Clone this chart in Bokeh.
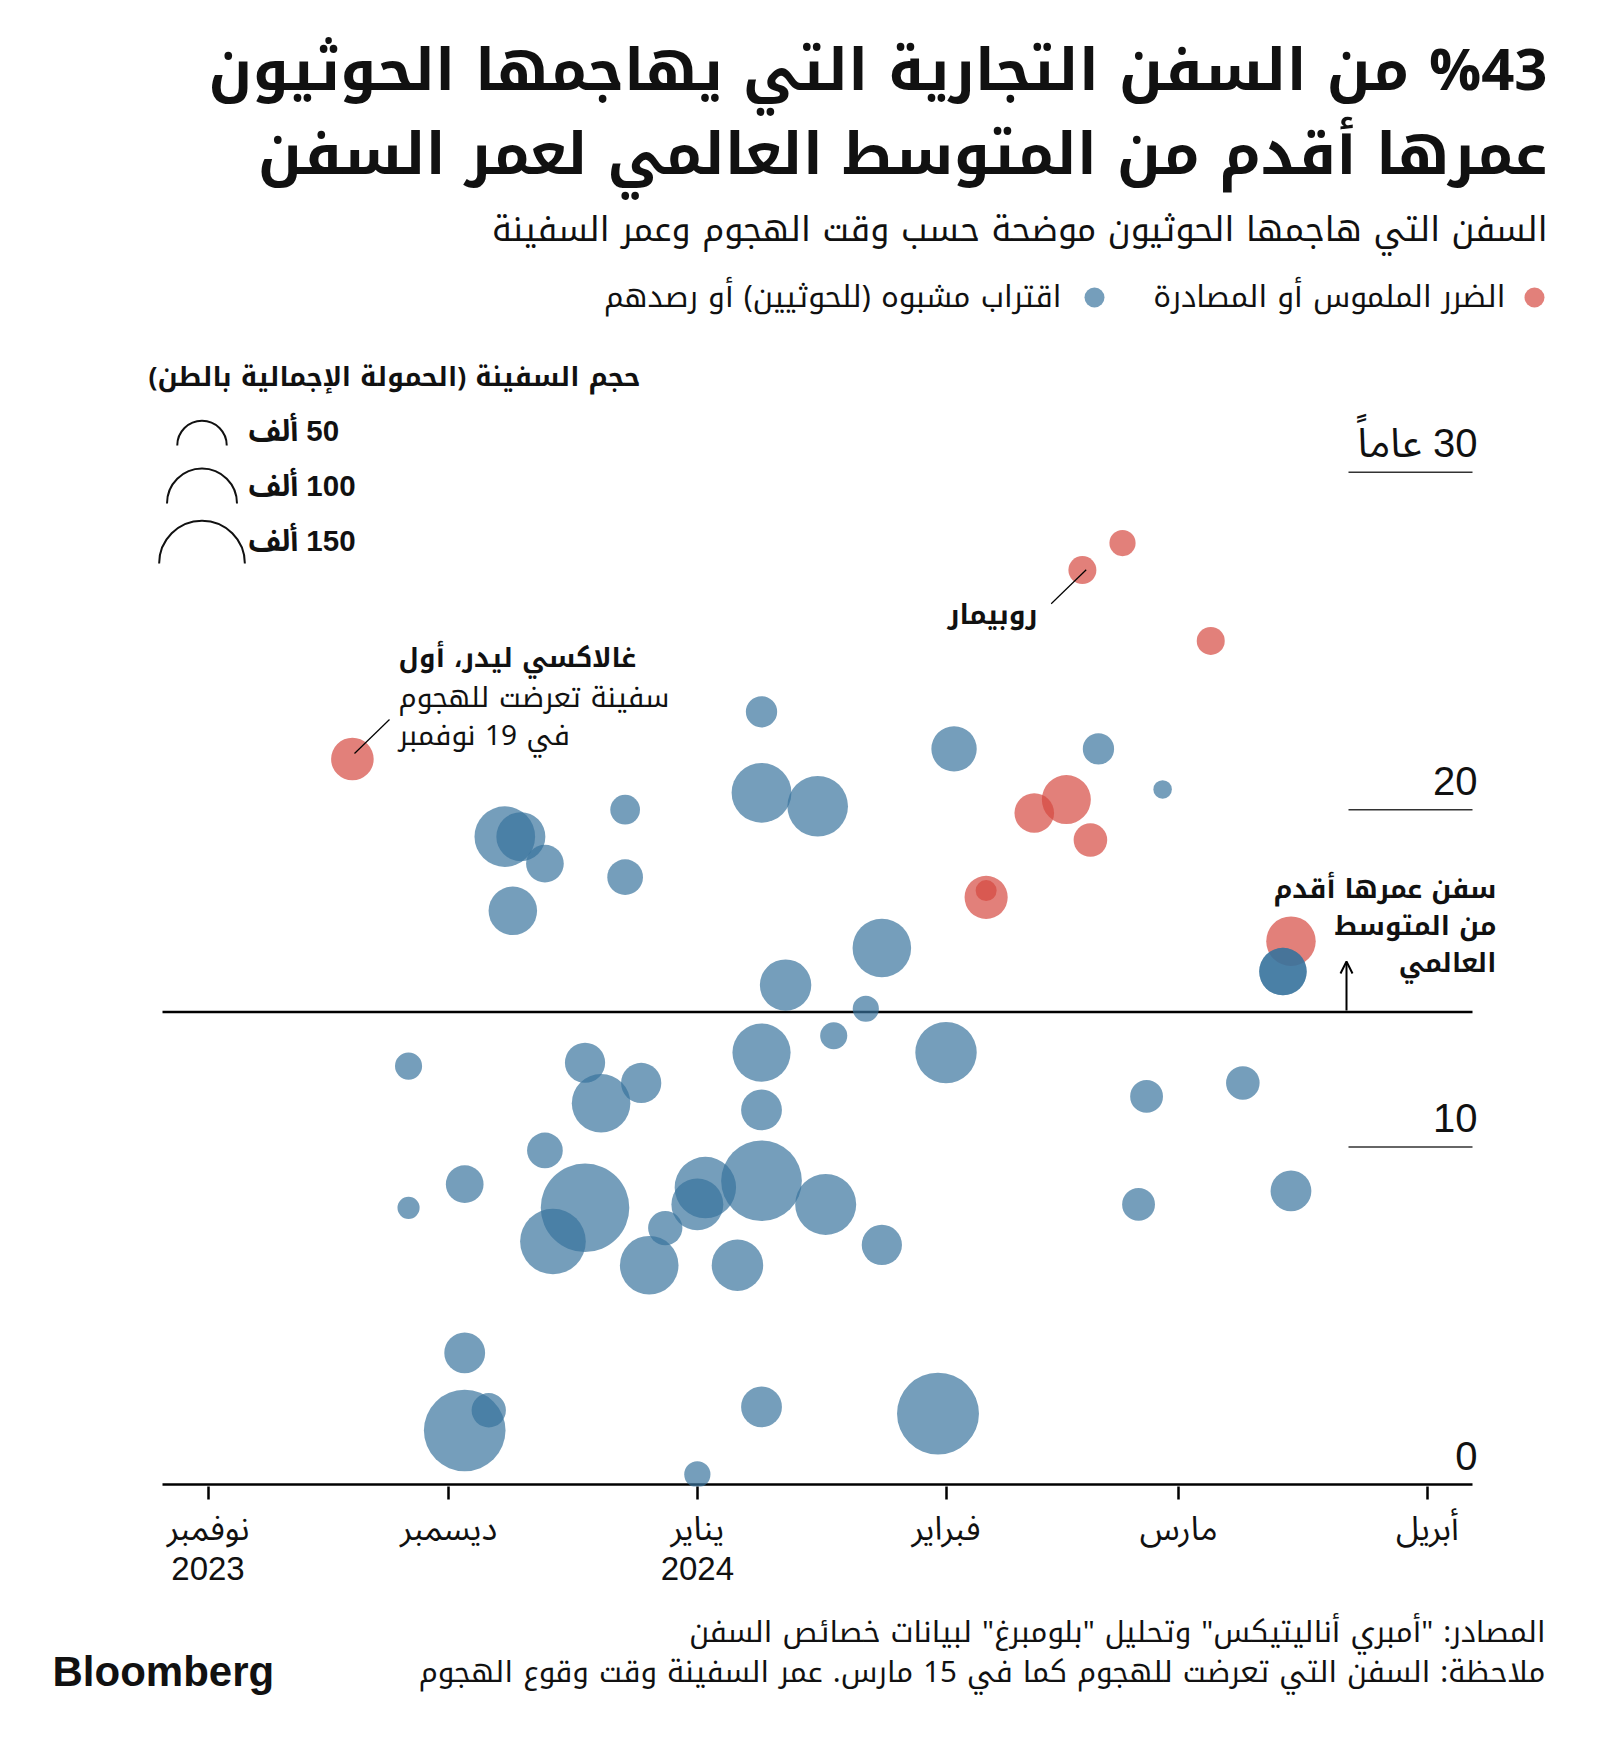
import math
import pandas as pd
from bokeh.plotting import figure
from bokeh.layouts import column
from bokeh.models import Range1d, FixedTicker, Label, Arrow, OpenHead, ColumnDataSource
from bokeh.embed import file_html
from bokeh.resources import INLINE

# ---------------- data ----------------
# Ships with physical damage or seized (red)
red_dates = ["2023-11-19", "2024-02-18", "2024-02-23", "2024-03-05", "2024-02-16",
             "2024-02-12", "2024-02-19", "2024-02-06", "2024-02-06", "2024-03-15"]
red_age = [21.5, 27.1, 27.9, 25.0, 20.3, 19.9, 19.1, 17.4, 17.6, 16.1]
red_kt = [37, 16, 14, 16, 49, 32, 23, 38, 9, 50]   # gross tonnage, thousands

# Suspicious approach or sighting (blue)
blue_dates = ["2024-01-09", "2024-02-02", "2024-02-20", "2024-02-28", "2024-01-09",
              "2024-01-16", "2023-12-23", "2023-12-08", "2023-12-10", "2023-12-13",
              "2023-12-23", "2023-12-09", "2024-01-24", "2024-01-12", "2024-03-14",
              "2024-03-14", "2024-01-22", "2024-01-18", "2024-01-09", "2024-02-01",
              "2023-11-26", "2023-12-18", "2023-12-25", "2023-12-20", "2024-01-09",
              "2024-02-26", "2024-03-09", "2023-12-13", "2023-12-03", "2024-01-02",
              "2024-01-01", "2024-01-09", "2024-01-17", "2023-12-18", "2023-12-14",
              "2023-11-26", "2023-12-28", "2023-12-26", "2024-01-06", "2024-01-24",
              "2024-02-25", "2024-03-15", "2023-12-03", "2023-12-03", "2023-12-06",
              "2024-01-09", "2024-01-31", "2024-01-01"]
blue_age = [22.9, 21.8, 21.8, 20.6, 20.5, 20.1, 20.0, 19.2, 19.2, 18.4,
            18.0, 17.0, 15.9, 14.8, 15.2, 15.2, 14.1, 13.3, 12.8, 12.8,
            12.4, 12.5, 11.9, 11.3, 11.1, 11.5, 11.9, 9.9, 8.9, 8.8,
            8.3, 9.0, 8.3, 8.2, 7.2, 8.2, 7.6, 6.5, 6.5, 7.1,
            8.3, 8.7, 3.9, 1.6, 2.2, 2.3, 2.1, 0.3]
blue_kt = [20, 42, 20, 7, 73, 75, 18, 75, 49, 29,
           26, 48, 70, 54, 46, 46, 14, 15, 69, 77,
           15, 33, 33, 70, 34, 22, 23, 26, 29, 77,
           55, 133, 76, 160, 88, 10, 24, 70, 54, 33,
           22, 34, 34, 136, 24, 34, 137, 14]

month_ticks = ["2023-11-01", "2023-12-01", "2024-01-01", "2024-02-01", "2024-03-01", "2024-04-01"]
month_labels = ["نوفمبر\n2023", "ديسمبر", "يناير\n2024", "فبراير", "مارس", "أبريل"]
age_ticks = [0, 10, 20, 30]
age_labels = ["0", "10", "20", "30 عاماً"]
global_avg_age = 14
legend_kt = [50, 100, 150]
legend_kt_labels = ["50 ألف", "100 ألف", "150 ألف"]

# ---------------- helpers ----------------
ORIGIN = pd.Timestamp("2023-11-01")


def days(ds):
    return [(pd.Timestamp(d) - ORIGIN).days for d in ds]


def rtl(s):
    return "\u200f" + s + "\u200f"


def diam(kt):
    return [7.0 * math.sqrt(k) for k in kt]


AR = "Noto Kufi Arabic, Noto Sans Arabic, DejaVu Sans"
NUM = "Liberation Sans, Noto Sans Arabic, DejaVu Sans"
RED = "#d5473e"
BLUE = "#37729d"
ALPHA = 0.69
INK = "#111111"

W = 1600
MAIN_H = 1600
FOOT_H = 150
FRAME_B = 1486            # page y of frame bottom
PX_PER_DAY = 8.022
X_DAY0 = 207.5            # page x of 1 Nov 2023
PX_PER_YR = 33.743
Y_AGE0 = 1484             # page y of age 0

x_rng = Range1d(-X_DAY0 / PX_PER_DAY, (W - X_DAY0) / PX_PER_DAY)
y_rng = Range1d(-(FRAME_B - Y_AGE0) / PX_PER_YR, Y_AGE0 / PX_PER_YR)

p = figure(width=W, height=MAIN_H, x_range=x_rng, y_range=y_rng,
           output_backend="svg", toolbar_location=None, y_axis_location=None,
           min_border_left=0, min_border_right=0, min_border_top=0,
           min_border_bottom=MAIN_H - FRAME_B)
p.extra_x_ranges = {"px": Range1d(0, W)}
p.extra_y_ranges = {"py": Range1d(-FRAME_B, 0)}
p.outline_line_color = None
p.xgrid.visible = False
p.ygrid.visible = False
p.background_fill_color = "white"
p.border_fill_color = "white"

# x axis (line drawn separately so it only spans the chart width)
ax = p.xaxis[0]
tick_days = days(month_ticks)
ax.ticker = FixedTicker(ticks=tick_days)
ax.major_label_overrides = {d: (l if l[0].isdigit() else rtl(l)) for d, l in zip(tick_days, month_labels)}
ax.axis_line_color = None
ax.major_tick_line_width = 2.5
ax.major_tick_line_color = "black"
ax.major_tick_out = 13
ax.major_tick_in = 0
ax.minor_tick_out = 0
ax.minor_tick_in = 0
ax.major_label_standoff = 10
ax.major_label_text_font = NUM
ax.major_label_text_font_size = "33px"
ax.major_label_text_line_height = 1.1
ax.major_label_text_color = INK

AX_L, AX_R = 162, 1472
p.segment(x0=[AX_L], x1=[AX_R], y0=[0], y1=[0], x_range_name="px", line_color="black", line_width=2.5)
# global average age line
p.segment(x0=[AX_L], x1=[AX_R], y0=[global_avg_age], y1=[global_avg_age], x_range_name="px",
          line_color="black", line_width=2.5)

# short gridlines and age labels
p.segment(x0=[1348] * 3, x1=[AX_R] * 3, y0=age_ticks[1:], y1=age_ticks[1:],
          x_range_name="px", line_color="#333333", line_width=1.5)
for t, l in zip(age_ticks, age_labels):
    p.add_layout(Label(x=1477, y=t, x_range_name="px", y_offset=29, text=(l if l.isdigit() else rtl(l)),
                       text_align="right", text_baseline="middle",
                       text_font=NUM, text_font_size="40px", text_color=INK))

# bubbles
p.scatter("x", "y", size="size", source=ColumnDataSource(dict(x=days(red_dates), y=red_age, size=diam(red_kt))),
          fill_color=RED, fill_alpha=ALPHA, line_color=None)
p.scatter("x", "y", size="size", source=ColumnDataSource(dict(x=days(blue_dates), y=blue_age, size=diam(blue_kt))),
          fill_color=BLUE, fill_alpha=ALPHA, line_color=None)


def lab(fig, text, x, y, size, align="right", bold=False, font=AR, color=INK):
    fig.add_layout(Label(x=x, y=-y, x_range_name="px", y_range_name="py", text=text,
                         text_align=align, text_baseline="middle", text_font=font,
                         text_font_size=f"{size}px", text_font_style="bold" if bold else "normal",
                         text_color=color))


# titles
lab(p, rtl("%43 من السفن التجارية التي يهاجمها الحوثيون"), 1547, 70, 58, bold=True)
lab(p, rtl("عمرها أقدم من المتوسط العالمي لعمر السفن"), 1547, 154, 58, bold=True)
lab(p, rtl("السفن التي هاجمها الحوثيون موضحة حسب وقت الهجوم وعمر السفينة"), 1547, 229, 34)

# colour legend
p.scatter(x=[1534, 1094], y=[-297, -297], size=20, fill_color=[RED, BLUE], fill_alpha=ALPHA,
          line_color=None, x_range_name="px", y_range_name="py")
lab(p, rtl("الضرر الملموس أو المصادرة"), 1505, 296, 30)
lab(p, rtl("اقتراب مشبوه (للحوثيين) أو رصدهم"), 1061, 296, 30)

# size legend
lab(p, rtl("حجم السفينة (الحمولة الإجمالية بالطن)"), 640, 376, 26.5, bold=True)
legend_base = [445, 503, 563]
p.arc(x=[201.5] * 3, y=[-b for b in legend_base], radius=[d / 2 for d in diam(legend_kt)],
      radius_units="screen", start_angle=0, end_angle=math.pi, line_color="#111111", line_width=2,
      x_range_name="px", y_range_name="py")
for l, yy in zip(legend_kt_labels, [430, 485, 540]):
    lab(p, rtl(l), 248, yy, 29.5, align="left", bold=True, font=NUM)

# annotations
lab(p, rtl("غالاكسي ليدر، أول"), 398, 657, 26.5, align="left", bold=True)
lab(p, rtl("سفينة تعرضت للهجوم"), 398, 697, 28, align="left")
lab(p, rtl("في 19 نوفمبر"), 398, 735, 28, align="left")
p.segment(x0=[389, 1085.7], y0=[-719, -569.3], x1=[354, 1050.7], y1=[-753, -603.3],
          x_range_name="px", y_range_name="py", line_color="black", line_width=1.2)
lab(p, rtl("روبيمار"), 1037, 614, 27, bold=True)
lab(p, rtl("سفن عمرها أقدم"), 1496, 888, 26.3, bold=True)
lab(p, rtl("من المتوسط"), 1496, 925, 26.3, bold=True)
lab(p, rtl("العالمي"), 1496, 962, 26.3, bold=True)
p.add_layout(Arrow(end=OpenHead(size=12, line_width=2, line_color="black"), x_start=1346, y_start=-1010,
                   x_end=1346, y_end=-961, line_width=2, line_color="black",
                   x_range_name="px", y_range_name="py"))

# footer figure
f = figure(width=W, height=FOOT_H, x_range=Range1d(0, W), y_range=Range1d(-(MAIN_H + FOOT_H), -MAIN_H),
           output_backend="svg", toolbar_location=None, x_axis_location=None, y_axis_location=None,
           min_border=0)
f.extra_x_ranges = {"px": Range1d(0, W)}
f.extra_y_ranges = {"py": Range1d(-(MAIN_H + FOOT_H), -MAIN_H)}
f.outline_line_color = None
f.xgrid.visible = False
f.ygrid.visible = False
lab(f, rtl('المصادر: "أمبري أناليتيكس" وتحليل "بلومبرغ" لبيانات خصائص السفن'), 1545, 1631, 29.5)
lab(f, rtl("ملاحظة: السفن التي تعرضت للهجوم كما في 15 مارس. عمر السفينة وقت وقوع الهجوم"), 1545, 1671, 29.5)
lab(f, "Bloomberg", 52, 1671, 42, align="left", bold=True, font="Liberation Sans")

layout = column(p, f, spacing=0)
open("out.html", "w").write(file_html(layout, INLINE))
